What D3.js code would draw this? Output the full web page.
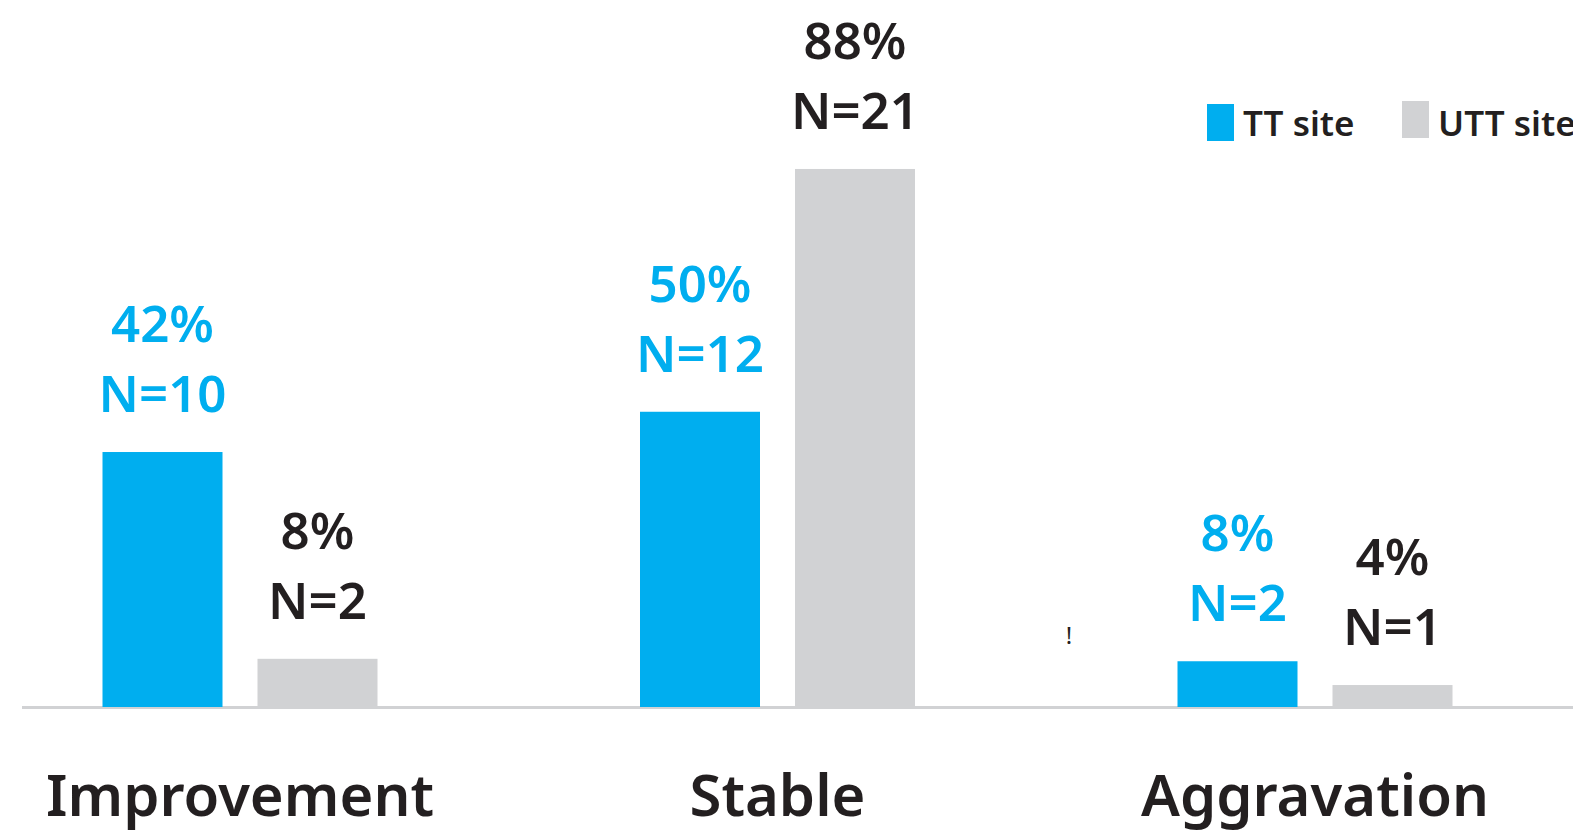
<!DOCTYPE html>
<html>
<head>
<meta charset="utf-8">
<script src="https://cdn.jsdelivr.net/npm/d3@7"></script>
<style>
  html, body { margin: 0; padding: 0; background: #ffffff; }
  svg { display: block; }
  text { font-family: "Noto Sans", "Open Sans", sans-serif; }
</style>
</head>
<body>
<svg id="chart" width="1573" height="833"></svg>
<script>
// ---- data ----
const categories = ["Improvement", "Stable", "Aggravation"];
const seriesNames = ["TT site", "UTT site"];
const ttValues = [41.8, 48.4, 7.5];
const uttValues = [7.9, 88.2, 3.6];
const ttPctLabels = ["42%", "50%", "8%"];
const uttPctLabels = ["8%", "88%", "4%"];
const ttNLabels = ["N=10", "N=12", "N=2"];
const uttNLabels = ["N=2", "N=21", "N=1"];

// ---- layout ----
const W = 1573, H = 833;
const baseY = 707;
const colors = { "TT site": "#00aeef", "UTT site": "#d1d2d4" };
const labelColors = { "TT site": "#00aeef", "UTT site": "#231f20" };

const svg = d3.select("#chart");

const x0 = d3.scaleBand().domain(categories).range([-28.75, -28.75 + 537.5 * 3]).padding(0);
const x1 = d3.scaleBand().domain(seriesNames).range([-137.5, 137.5]).paddingInner(0.2258).paddingOuter(0);
const y = d3.scaleLinear().domain([0, 100]).range([baseY, baseY - 610]);

const rows = [];
categories.forEach((c, i) => {
  rows.push({ cat: c, s: "TT site", v: ttValues[i], pct: ttPctLabels[i], n: ttNLabels[i] });
  rows.push({ cat: c, s: "UTT site", v: uttValues[i], pct: uttPctLabels[i], n: uttNLabels[i] });
});
const cx = d => x0(d.cat) + x0.bandwidth() / 2 + x1(d.s);

// baseline axis
svg.append("line")
  .attr("x1", 22).attr("x2", W)
  .attr("y1", baseY + 0.5).attr("y2", baseY + 0.5)
  .attr("stroke", "#d1d2d4").attr("stroke-width", 3);

// bars
svg.append("g").selectAll("rect").data(rows).join("rect")
  .attr("x", d => cx(d))
  .attr("width", x1.bandwidth())
  .attr("y", d => y(d.v))
  .attr("height", d => y(0) - y(d.v))
  .attr("fill", d => colors[d.s]);

// value labels
const lab = svg.append("g").attr("font-weight", 600).attr("font-size", 51).attr("text-anchor", "middle");
lab.selectAll("text.n").data(rows).join("text").attr("class", "n")
  .attr("x", d => cx(d) + x1.bandwidth() / 2)
  .attr("y", d => y(d.v) - 40)
  .attr("fill", d => labelColors[d.s])
  .text(d => d.n);
lab.selectAll("text.p").data(rows).join("text").attr("class", "p")
  .attr("x", d => cx(d) + x1.bandwidth() / 2)
  .attr("y", d => y(d.v) - 40 - 70)
  .attr("fill", d => labelColors[d.s])
  .text(d => d.pct);

// category labels
svg.append("g").selectAll("text").data(categories).join("text")
  .attr("x", d => x0(d) + x0.bandwidth() / 2)
  .attr("y", 816)
  .attr("text-anchor", "middle")
  .attr("font-size", 58)
  .attr("font-weight", 600)
  .attr("fill", "#231f20")
  .text(d => d);

// stray mark
svg.append("text").attr("x", 1069).attr("y", 644).attr("text-anchor", "middle")
  .attr("font-size", 24).attr("fill", "#231f20").text("!");

// legend
const legendX = [1207, 1402];
const lg = svg.append("g");
seriesNames.forEach((s, i) => {
  lg.append("rect").attr("x", legendX[i]).attr("y", i === 0 ? 104 : 101)
    .attr("width", 27).attr("height", 37).attr("fill", colors[s]);
  lg.append("text").attr("x", legendX[i] + 36).attr("y", 136)
    .attr("font-size", 35).attr("font-weight", 600).attr("fill", "#231f20").text(s);
});
</script>
</body>
</html>
